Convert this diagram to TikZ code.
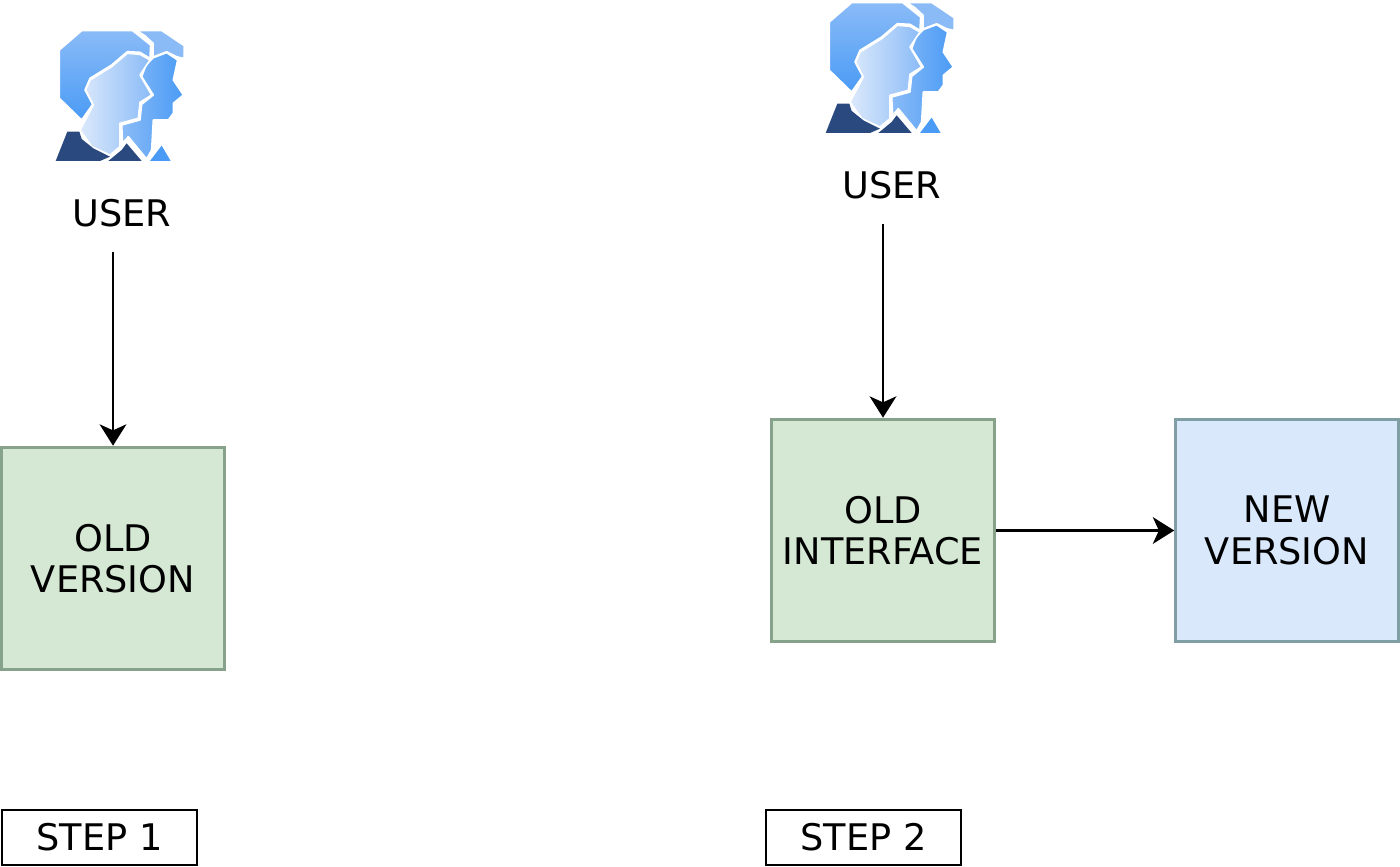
\documentclass[tikz,border=0pt]{standalone}
\usepackage{fontspec}
\setmainfont{DejaVu Sans}
\usetikzlibrary{arrows.meta}
\definecolor{oldfill}{HTML}{D5E8D4}
\definecolor{olddraw}{HTML}{87A28A}
\definecolor{newfill}{HTML}{DAE8FC}
\definecolor{newdraw}{HTML}{7F9FA5}
\definecolor{iconlight}{HTML}{8ABBF7}
\definecolor{iconblue}{HTML}{4A9BF5}
\definecolor{icondark}{HTML}{2A4A7F}
\definecolor{iconpale}{HTML}{DCE9FB}
\tikzset{
    labeltext/.style={font=\fontsize{27.5}{31}\selectfont, align=center, text=black},
    oldbox/.style={labeltext, draw=olddraw, fill=oldfill, line width=2.2pt, minimum width=167pt, minimum height=167pt, inner sep=0pt},
    newbox/.style={oldbox, draw=newdraw, fill=newfill},
    stepbox/.style={labeltext, draw=black, line width=1.5pt, minimum width=146pt, minimum height=41pt, inner sep=0pt},
    flowarrow/.style={line width=2pt, -{Stealth[length=16pt, width=20pt, inset=4.5pt]}},
    iconpart/.style={draw=white, line width=1.2pt, line join=round},
    usericon/.pic={
        % back head
        \shade[iconpart, top color=iconlight, bottom color=iconblue]
            (125,47) -- (278,47) -- (332,90) -- (330,130) -- (300,112) -- (262,110) -- (215,150)
            -- (150,190) -- (135,225) -- (158,268) -- (125,315) -- (58,250) -- (58,105) -- cycle;
        \fill[iconlight, draw=white, line width=1pt]
            (292,47) -- (365,47) -- (432,92) -- (432,130) -- (410,125) -- (380,110) -- (340,125)
            -- (340,85) -- (315,62) -- cycle;
        % middle head
        \shade[iconpart, left color=iconlight, right color=iconblue]
            (318,150) -- (340,128) -- (380,113) -- (413,135) -- (400,195) -- (430,240) -- (400,265)
            -- (400,295) -- (385,315) -- (340,315) -- (335,405) -- (320,432) -- (265,365)
            -- (248,385) -- (245,330) -- (300,315) -- (305,268) -- (340,240) -- (305,185) -- cycle;
        % front head
        \shade[iconpart, left color=iconpale, right color=iconlight]
            (150,195) -- (215,155) -- (262,115) -- (300,118) -- (330,135) -- (300,180) -- (335,240)
            -- (300,262) -- (295,310) -- (240,325) -- (240,395) -- (210,420) -- (155,395)
            -- (120,345) -- (160,270) -- (137,225) -- cycle;
        % shoulders
        \fill[icondark] (82,350) -- (118,350) -- (125,372) -- (160,400) -- (210,425) -- (180,438) -- (47,438) -- cycle;
        \fill[icondark] (260,385) -- (305,438) -- (205,438) -- (245,405) -- cycle;
        \fill[iconblue] (365,392) -- (392,438) -- (330,438) -- cycle;
    }
}
\begin{document}
\begin{tikzpicture}[x=0.75pt, y=-0.75pt]
\useasboundingbox (0,0) rectangle (1400,867);

% step 1
\pic[scale=0.3333] at (40,15) {usericon};
\node[labeltext] (userA) at (122,213) {USER};
\coordinate (userendA) at (113,252);
\node[oldbox] (oldversion) at (113,558.5) {OLD\\VERSION};
\draw[flowarrow] (userendA) -- (oldversion);
\node[stepbox] (stepA) at (99.5,837.5) {STEP 1};

% step 2
\pic[scale=0.3333] at (810,-13) {usericon};
\node[labeltext] (userB) at (892,185) {USER};
\coordinate (userendB) at (883,224);
\node[oldbox] (oldinterface) at (883,530.5) {OLD\\INTERFACE};
\node[newbox] (newversion) at (1287,530.5) {NEW\\VERSION};
\draw[flowarrow] (userendB) -- (oldinterface);
\draw[flowarrow] (oldinterface) -- (newversion);
\node[stepbox] (stepB) at (863.5,837.5) {STEP 2};
\end{tikzpicture}
\end{document}
